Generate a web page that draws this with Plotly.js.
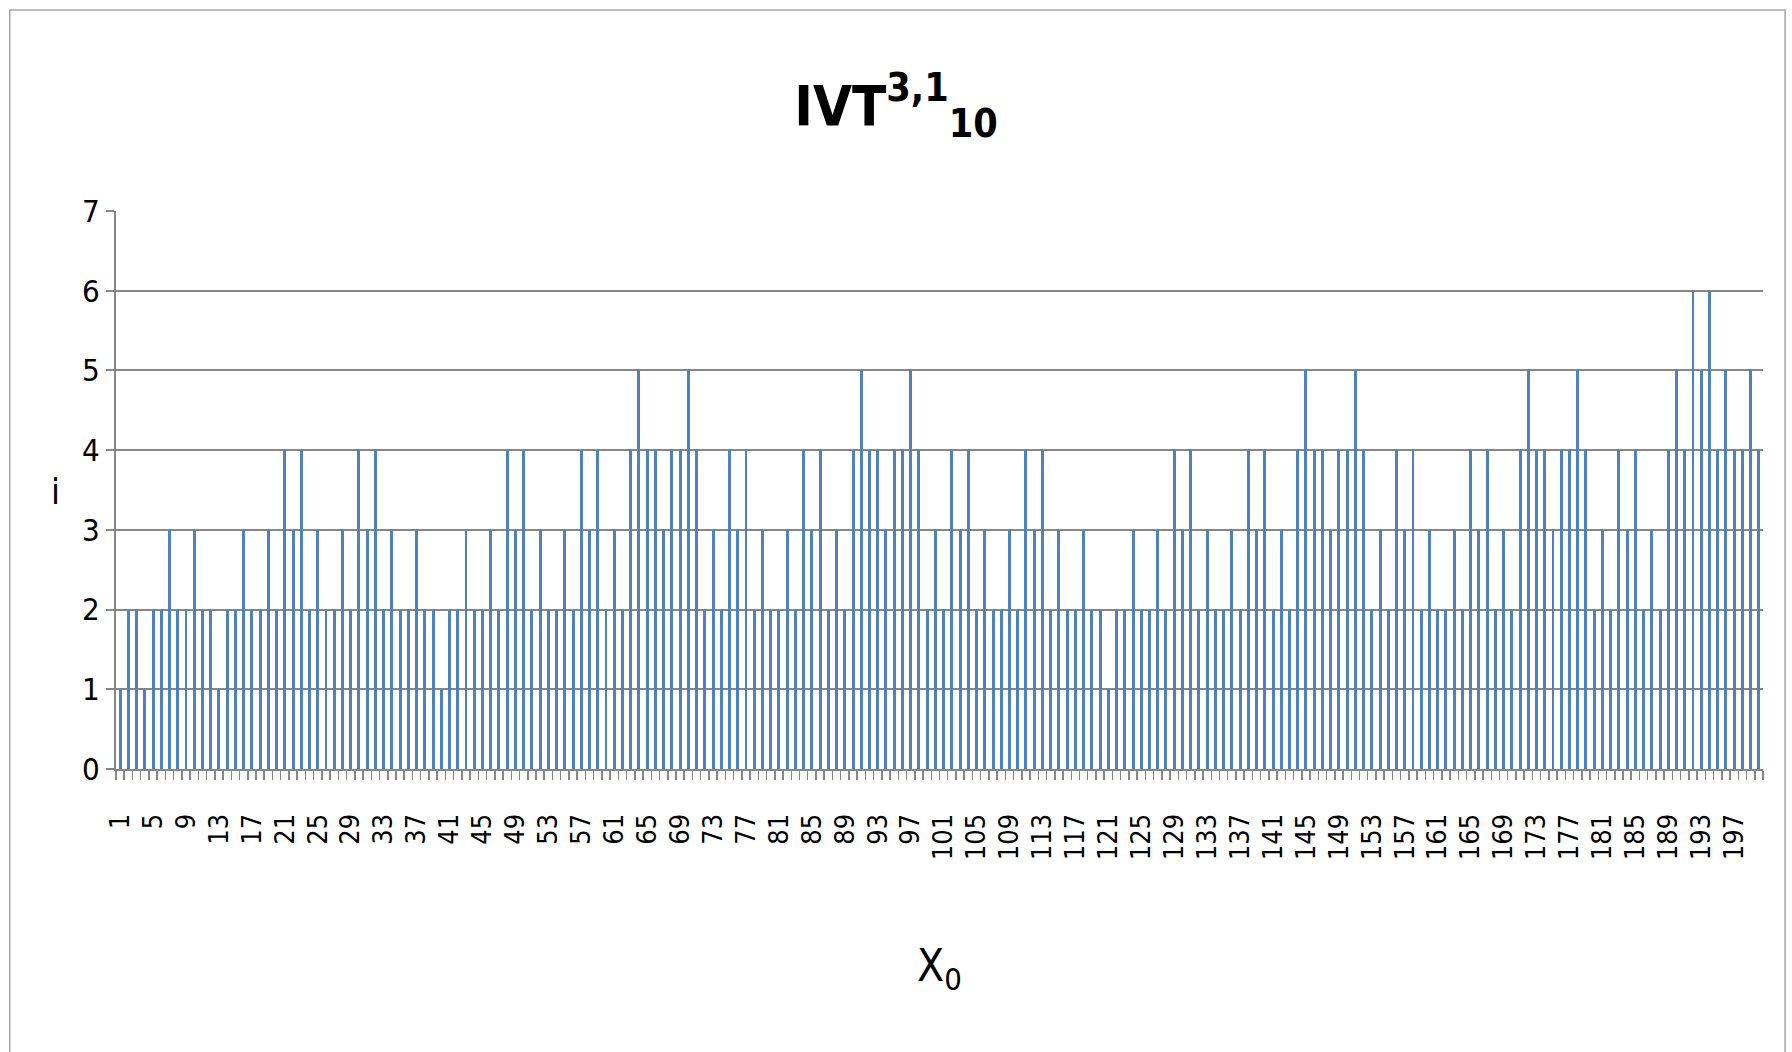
<!DOCTYPE html>
<html>
<head>
<meta charset="utf-8">
<script src="https://cdn.plot.ly/plotly-3.0.1.min.js"></script>
<style>
  html, body { margin: 0; padding: 0; background: #ffffff; }
  #chart { width: 1792px; height: 1052px; }
</style>
</head>
<body>
<div id="chart"></div>
<script>
// x0 categories
const categories = [
  1,2,3,4,5,6,7,8,9,10,11,12,13,14,15,16,17,18,19,20,
  21,22,23,24,25,26,27,28,29,30,31,32,33,34,35,36,37,38,39,40,
  41,42,43,44,45,46,47,48,49,50,51,52,53,54,55,56,57,58,59,60,
  61,62,63,64,65,66,67,68,69,70,71,72,73,74,75,76,77,78,79,80,
  81,82,83,84,85,86,87,88,89,90,91,92,93,94,95,96,97,98,99,100,
  101,102,103,104,105,106,107,108,109,110,111,112,113,114,115,116,117,118,119,120,
  121,122,123,124,125,126,127,128,129,130,131,132,133,134,135,136,137,138,139,140,
  141,142,143,144,145,146,147,148,149,150,151,152,153,154,155,156,157,158,159,160,
  161,162,163,164,165,166,167,168,169,170,171,172,173,174,175,176,177,178,179,180,
  181,182,183,184,185,186,187,188,189,190,191,192,193,194,195,196,197,198,199,200
];

// i values
const iValues = [
  1,2,2,1,2,2,3,2,2,3,2,2,1,2,2,3,2,2,3,2,
  4,3,4,2,3,2,2,3,2,4,3,4,2,3,2,2,3,2,2,1,
  2,2,3,2,2,3,2,4,3,4,2,3,2,2,3,2,4,3,4,2,
  3,2,4,5,4,4,3,4,4,5,4,2,3,2,4,3,4,2,3,2,
  2,3,2,4,3,4,2,3,2,4,5,4,4,3,4,4,5,4,2,3,
  2,4,3,4,2,3,2,2,3,2,4,3,4,2,3,2,2,3,2,2,
  1,2,2,3,2,2,3,2,4,3,4,2,3,2,2,3,2,4,3,4,
  2,3,2,4,5,4,4,3,4,4,5,4,2,3,2,4,3,4,2,3,
  2,2,3,2,4,3,4,2,3,2,4,5,4,4,3,4,4,5,4,2,
  3,2,4,3,4,2,3,2,4,5,4,6,5,6,4,5,4,4,5,4
];

// x tick labels (every 4th category)
const tickValues = [1,5,9,13,17,21,25,29,33,37,41,45,49,53,57,61,65,69,73,77,81,85,89,93,97,
  101,105,109,113,117,121,125,129,133,137,141,145,149,153,157,161,165,169,173,177,181,185,189,193,197];
const tickLabels = ["1","5","9","13","17","21","25","29","33","37","41","45","49","53","57","61","65","69","73","77","81","85","89","93","97",
  "101","105","109","113","117","121","125","129","133","137","141","145","149","153","157","161","165","169","173","177","181","185","189","193","197"];

const yTicks = [0,1,2,3,4,5,6,7];

const FONT = "'DejaVu Sans Condensed', 'Liberation Sans Narrow', 'Liberation Sans', sans-serif";
const GRID = '#868686';

const trace = {
  type: 'bar',
  x: categories,
  y: iValues,
  width: 0.36,
  marker: { color: '#4f81bd', line: { width: 0 } },
  hoverinfo: 'x+y'
};

const layout = {
  width: 1792,
  height: 1052,
  paper_bgcolor: '#ffffff',
  plot_bgcolor: '#ffffff',
  margin: { l: 116, r: 29, t: 211, b: 283 },
  showlegend: false,
  title: {
    text: '<b>IVT<sup>3,1</sup><sub>10</sub></b>',
    x: 0.5, xref: 'container', xanchor: 'center',
    y: 0.90, yref: 'container', yanchor: 'middle',
    font: { family: FONT, size: 56, color: '#000000' }
  },
  xaxis: {
    type: 'linear',
    range: [0.5, 200.5],
    tickmode: 'array',
    tickvals: tickValues,
    ticktext: tickLabels,
    tickangle: -90,
    ticks: '',
    ticklabelstandoff: 32,
    tickfont: { family: FONT, size: 27, color: '#000000' },
    showgrid: false,
    zeroline: false,
    showline: true,
    linecolor: GRID,
    linewidth: 2,
    minor: { tickmode: 'linear', tick0: 0.5, dtick: 1, ticks: 'outside', ticklen: 9, tickwidth: 1.5, tickcolor: GRID, showgrid: false },
    fixedrange: true
  },
  yaxis: {
    range: [0, 7],
    tickmode: 'array',
    tickvals: yTicks,
    ticktext: yTicks.map(String),
    ticks: 'outside',
    ticklen: 8,
    tickwidth: 2,
    tickcolor: GRID,
    tickfont: { family: FONT, size: 31, color: '#000000' },
    showgrid: true,
    gridcolor: GRID,
    gridwidth: 2,
    zeroline: false,
    showline: true,
    linecolor: GRID,
    linewidth: 2,
    fixedrange: true
  },
  annotations: [
    {
      text: 'i', xref: 'paper', yref: 'paper', x: -0.037, y: 0.497,
      xanchor: 'center', yanchor: 'middle', showarrow: false,
      font: { family: FONT, size: 36, color: '#000000' }
    },
    {
      text: 'X<sub>0</sub>', xref: 'paper', yref: 'paper', x: 0.5, y: -0.357,
      xanchor: 'center', yanchor: 'middle', showarrow: false,
      font: { family: FONT, size: 44, color: '#000000' }
    }
  ],
  shapes: [
    {
      type: 'rect', xref: 'paper', yref: 'paper', layer: 'below',
      x0: -0.0645, x1: 1.0134, y0: -0.52, y1: 1.36,
      line: { color: '#a6a6a6', width: 1.5 }, fillcolor: 'rgba(0,0,0,0)'
    }
  ],
  bargap: 0
};

Plotly.newPlot('chart', [trace], layout, { displayModeBar: false, staticPlot: true });
</script>
</body>
</html>
